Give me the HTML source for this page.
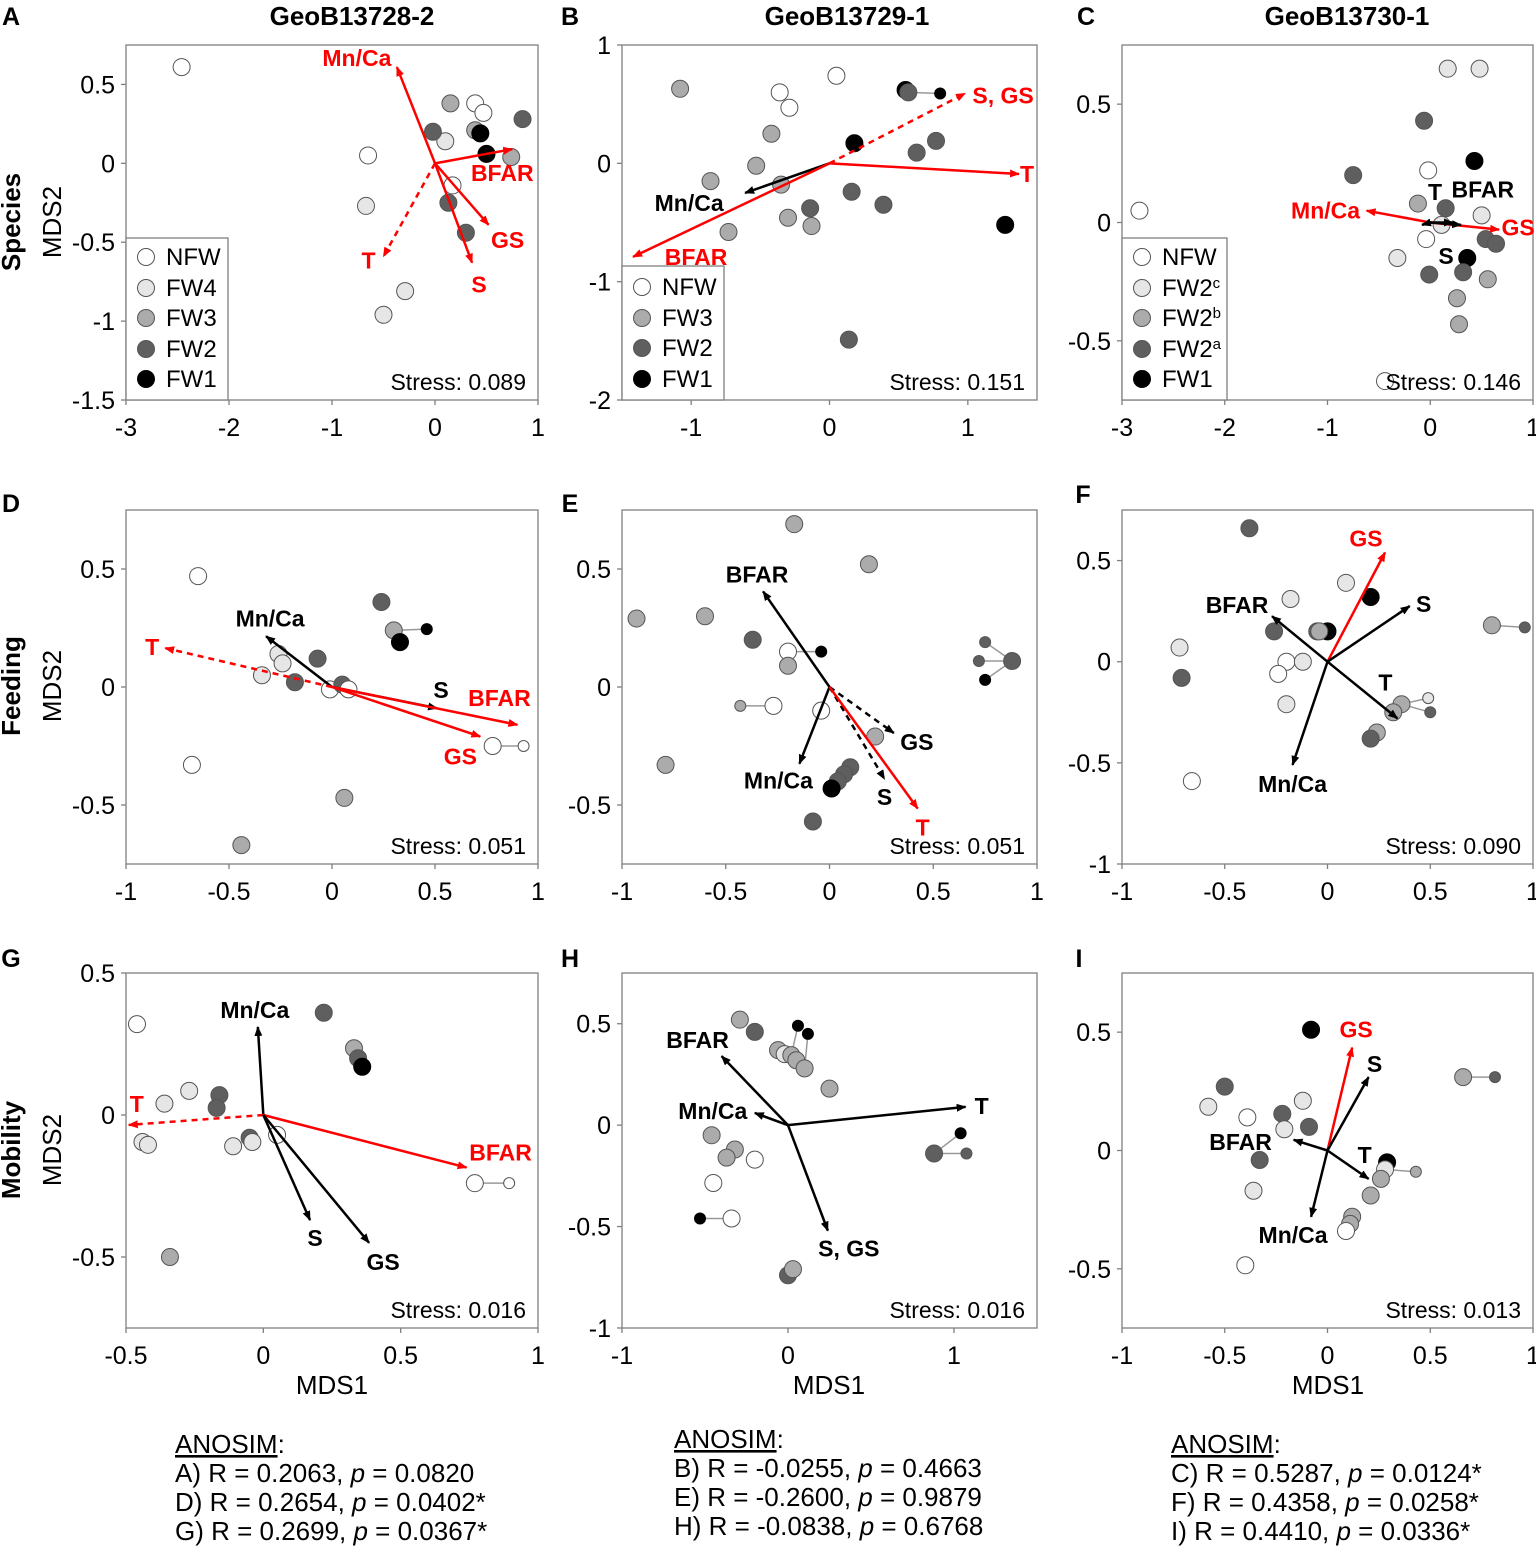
<!DOCTYPE html>
<html><head><meta charset="utf-8">
<style>
html,body{margin:0;padding:0;background:#fff;}
svg{display:block;font-family:"Liberation Sans",Arial,sans-serif;}
</style></head>
<body>
<svg id="fig" width="1536" height="1546" viewBox="0 0 1536 1546" xmlns="http://www.w3.org/2000/svg">
<defs>
<marker id="ahR" markerWidth="10" markerHeight="8" refX="9" refY="4" orient="auto" markerUnits="userSpaceOnUse"><path d="M0,0 L10,4 L0,8 z" fill="#ff0000"/></marker>
<marker id="ahK" markerWidth="10" markerHeight="8" refX="9" refY="4" orient="auto" markerUnits="userSpaceOnUse"><path d="M0,0 L10,4 L0,8 z" fill="#000"/></marker>
</defs>
</svg>
<script>
// ---------- data ----------
const fills = ['#ffffff','#e6e6e6','#ababab','#5f5f5f','#000000'];

// Panel A
const ptsX_A=[-2.46,-0.65,-0.67,-0.29,-0.50,0.15,0.39,0.47,0.10,-0.02,0.39,0.44,0.85,0.50,0.74,0.17,0.13,0.30];
const ptsY_A=[0.61,0.05,-0.27,-0.81,-0.96,0.38,0.38,0.32,0.14,0.20,0.21,0.19,0.28,0.06,0.04,-0.14,-0.25,-0.44];
const ptsC_A=[0,0,1,1,1,2,0,0,1,3,2,4,3,4,2,0,3,3];
const ptsS_A=[0,0,0,0,0,0,0,0,0,0,0,0,0,0,0,0,0,0];
const links_A=[];
const arrLab_A=['Mn/Ca','BFAR','GS','S','T'];
const arrX_A=[-0.37,0.75,0.52,0.36,-0.50];
const arrY_A=[0.61,0.09,-0.39,-0.63,-0.59];
const arrRed_A=[1,1,1,1,1];
const arrDash_A=[0,0,0,0,1];

// Panel B
const ptsX_B=[-1.08,0.05,-0.36,-0.29,-0.42,-0.53,-0.86,-0.35,-0.73,-0.30,-0.13,-0.14,0.18,0.16,0.39,0.63,0.77,0.55,0.57,0.80,1.27,0.14];
const ptsY_B=[0.63,0.74,0.60,0.47,0.25,-0.02,-0.15,-0.18,-0.58,-0.46,-0.53,-0.38,0.17,-0.24,-0.35,0.09,0.19,0.62,0.60,0.59,-0.52,-1.49];
const ptsC_B=[2,0,0,0,2,2,2,2,2,2,2,3,4,3,3,3,3,4,3,4,4,3];
const ptsS_B=[0,0,0,0,0,0,0,0,0,0,0,0,0,0,0,0,0,0,0,1,0,0];
const links_B=[[18,19]];
const arrLab_B=['S, GS','T','Mn/Ca','BFAR'];
const arrX_B=[0.98,1.37,-0.61,-1.42];
const arrY_B=[0.59,-0.09,-0.25,-0.79];
const arrRed_B=[1,1,0,1];
const arrDash_B=[1,0,0,0];

// Panel C
const ptsX_C=[-2.83,0.17,0.48,-0.06,0.43,-0.75,-0.02,-0.12,0.15,0.50,0.11,-0.04,-0.32,-0.01,0.36,0.32,0.54,0.64,0.56,0.26,0.28,-0.44];
const ptsY_C=[0.05,0.65,0.65,0.43,0.26,0.20,0.22,0.08,0.06,0.03,-0.01,-0.07,-0.15,-0.22,-0.15,-0.21,-0.07,-0.09,-0.24,-0.32,-0.43,-0.67];
const ptsC_C=[0,1,1,3,4,3,0,2,3,1,1,0,1,3,4,3,3,3,2,2,2,0];
const ptsS_C=[0,0,0,0,0,0,0,0,0,0,0,0,0,0,0,0,0,0,0,0,0,0];
const links_C=[];
const arrLab_C=['Mn/Ca','GS','T','BFAR','S'];
const arrX_C=[-0.62,0.67,0.30,0.22,-0.08];
const arrY_C=[0.05,-0.03,-0.01,0.0,-0.01];
const arrRed_C=[1,1,0,0,0];
const arrDash_C=[0,0,0,0,0];

// Panel D
const ptsX_D=[-0.65,-0.68,-0.44,0.06,0.24,0.30,0.46,0.33,-0.07,-0.26,-0.24,-0.34,-0.18,-0.01,0.05,0.08,0.78,0.93];
const ptsY_D=[0.47,-0.33,-0.67,-0.47,0.36,0.24,0.245,0.19,0.12,0.14,0.10,0.05,0.02,-0.01,0.01,-0.01,-0.25,-0.25];
const ptsC_D=[0,0,2,2,3,2,4,4,3,1,1,1,3,0,3,0,0,0];
const ptsS_D=[0,0,0,0,0,0,1,0,0,0,0,0,0,0,0,0,0,1];
const links_D=[[5,6],[16,17]];
const arrLab_D=['Mn/Ca','T','S','BFAR','GS'];
const arrX_D=[-0.32,-0.81,0.51,0.90,0.72];
const arrY_D=[0.215,0.165,-0.09,-0.16,-0.21];
const arrRed_D=[0,1,0,1,1];
const arrDash_D=[0,1,0,0,0];

// Panel E
const ptsX_E=[-0.17,0.19,-0.93,-0.60,-0.37,-0.20,-0.04,-0.20,-0.27,-0.43,-0.04,0.22,-0.79,0.10,0.07,0.04,0.01,-0.08,0.88,0.75,0.72,0.75];
const ptsY_E=[0.69,0.52,0.29,0.30,0.20,0.15,0.15,0.09,-0.08,-0.08,-0.10,-0.21,-0.33,-0.34,-0.37,-0.40,-0.43,-0.57,0.11,0.19,0.11,0.03];
const ptsC_E=[2,2,2,2,3,0,4,2,0,2,0,2,2,3,3,3,4,3,3,3,3,4];
const ptsS_E=[0,0,0,0,0,0,1,0,0,1,0,0,0,0,0,0,0,0,0,1,1,1];
const links_E=[[5,6],[8,9],[18,19],[18,20],[18,21]];
const arrLab_E=['BFAR','Mn/Ca','GS','S','T'];
const arrX_E=[-0.32,-0.145,0.31,0.265,0.425];
const arrY_E=[0.405,-0.325,-0.195,-0.39,-0.515];
const arrRed_E=[0,0,0,0,1];
const arrDash_E=[0,0,1,1,0];

// Panel F
const ptsX_F=[-0.38,0.09,0.21,-0.18,-0.72,-0.71,-0.26,-0.05,0.0,-0.04,-0.20,-0.12,-0.24,-0.20,-0.66,0.80,0.96,0.36,0.32,0.24,0.21,0.49,0.50];
const ptsY_F=[0.66,0.39,0.32,0.31,0.07,-0.08,0.15,0.15,0.15,0.15,0.0,0.0,-0.06,-0.21,-0.59,0.18,0.17,-0.21,-0.25,-0.35,-0.38,-0.18,-0.25];
const ptsC_F=[3,1,4,1,1,3,3,3,4,2,0,1,0,1,0,2,3,2,2,2,3,1,3];
const ptsS_F=[0,0,0,0,0,0,0,0,0,0,0,0,0,0,0,0,1,0,0,0,0,1,1];
const links_F=[[15,16],[17,21],[17,22]];
const arrLab_F=['GS','S','BFAR','T','Mn/Ca'];
const arrX_F=[0.28,0.40,-0.27,0.34,-0.17];
const arrY_F=[0.54,0.275,0.225,-0.28,-0.51];
const arrRed_F=[1,0,0,0,0];
const arrDash_F=[0,0,0,0,0];

// Panel G
const ptsX_G=[-0.46,0.22,0.33,0.345,0.36,-0.27,-0.36,-0.16,-0.17,-0.44,-0.42,-0.11,-0.05,-0.04,0.05,-0.34,0.77,0.895];
const ptsY_G=[0.32,0.36,0.235,0.20,0.17,0.085,0.04,0.07,0.025,-0.095,-0.105,-0.11,-0.08,-0.095,-0.07,-0.50,-0.24,-0.24];
const ptsC_G=[0,3,2,3,4,1,1,3,3,1,1,1,3,1,0,2,0,0];
const ptsS_G=[0,0,0,0,0,0,0,0,0,0,0,0,0,0,0,0,0,1];
const links_G=[[16,17]];
const arrLab_G=['Mn/Ca','T','BFAR','S','GS'];
const arrX_G=[-0.02,-0.49,0.74,0.17,0.385];
const arrY_G=[0.31,-0.035,-0.185,-0.37,-0.45];
const arrRed_G=[0,1,1,0,0];
const arrDash_G=[0,1,0,0,0];

// Panel H
const ptsX_H=[-0.29,-0.20,-0.06,-0.02,0.02,0.05,0.10,0.25,0.06,0.12,-0.46,-0.32,-0.37,-0.20,-0.45,-0.34,-0.53,0.0,0.03,0.88,1.04,1.075];
const ptsY_H=[0.52,0.46,0.37,0.35,0.345,0.32,0.28,0.18,0.49,0.45,-0.05,-0.12,-0.16,-0.17,-0.285,-0.46,-0.46,-0.74,-0.71,-0.14,-0.04,-0.14];
const ptsC_H=[2,3,2,1,2,2,2,2,4,4,2,2,2,0,0,0,4,3,2,3,4,3];
const ptsS_H=[0,0,0,0,0,0,0,0,1,1,0,0,0,0,0,0,1,0,0,0,1,1];
const links_H=[[4,8],[6,9],[15,16],[19,20],[19,21]];
const arrLab_H=['BFAR','Mn/Ca','T','S, GS'];
const arrX_H=[-0.40,-0.20,1.07,0.24];
const arrY_H=[0.34,0.06,0.09,-0.52];
const arrRed_H=[0,0,0,0];
const arrDash_H=[0,0,0,0];

// Panel I
const ptsX_I=[-0.08,-0.50,-0.58,-0.39,-0.12,-0.22,-0.21,-0.09,-0.33,-0.36,-0.40,0.66,0.815,0.29,0.28,0.26,0.21,0.12,0.11,0.09,0.43];
const ptsY_I=[0.51,0.27,0.185,0.14,0.21,0.155,0.09,0.10,-0.04,-0.17,-0.485,0.31,0.31,-0.05,-0.08,-0.12,-0.19,-0.28,-0.31,-0.34,-0.09];
const ptsC_I=[4,3,1,0,1,3,1,3,3,1,0,2,3,4,1,2,2,2,2,0,2];
const ptsS_I=[0,0,0,0,0,0,0,0,0,0,0,0,1,0,0,0,0,0,0,0,1];
const links_I=[[11,12],[14,20]];
const arrLab_I=['GS','S','BFAR','T','Mn/Ca'];
const arrX_I=[0.12,0.20,-0.165,0.20,-0.08];
const arrY_I=[0.435,0.31,0.045,-0.12,-0.28];
const arrRed_I=[1,0,0,0,0];
const arrDash_I=[0,0,0,0,0];

// tick labels
const xTicks_A=[-3,-2,-1,0,1], yTicks_A=[0.5,0,-0.5,-1,-1.5];
const xTicks_B=[-1,0,1], yTicks_B=[1,0,-1,-2];
const xTicks_C=[-3,-2,-1,0,1], yTicks_C=[0.5,0,-0.5];
const xTicks_D=[-1,-0.5,0,0.5,1], yTicks_D=[0.5,0,-0.5];
const xTicks_E=[-1,-0.5,0,0.5,1], yTicks_E=[0.5,0,-0.5];
const xTicks_F=[-1,-0.5,0,0.5,1], yTicks_F=[0.5,0,-0.5,-1];
const xTicks_G=[-0.5,0,0.5,1], yTicks_G=[0.5,0,-0.5];
const xTicks_H=[-1,0,1], yTicks_H=[0.5,0,-0.5,-1];
const xTicks_I=[-1,-0.5,0,0.5,1], yTicks_I=[0.5,0,-0.5];
const stress=['0.089','0.151','0.146','0.051','0.051','0.090','0.016','0.016','0.013'];

// ---------- layout ----------
const NS='http://www.w3.org/2000/svg';
const svg=document.getElementById('fig');
function mk(tag,attrs,parent,text){const e=document.createElementNS(NS,tag);for(const k in attrs)e.setAttribute(k,attrs[k]);if(text!==undefined)e.textContent=text;(parent||svg).appendChild(e);return e;}

const colL=[126,622,1122], colR=[538,1037,1533];
const rowT=[45,510,973], rowB=[400,864,1328];
const panels=[
 {id:'A',c:0,r:0,xr:[-3,1],yr:[-1.5,0.75],x:ptsX_A,y:ptsY_A,col:ptsC_A,s:ptsS_A,l:links_A,al:arrLab_A,ax:arrX_A,ay:arrY_A,ar:arrRed_A,ad:arrDash_A,xt:xTicks_A,yt:yTicks_A,
  off:[[-40,-9],[-10,24],[19,15],[7,22],[-15,4]]},
 {id:'B',c:1,r:0,xr:[-1.5,1.5],yr:[-2,1],x:ptsX_B,y:ptsY_B,col:ptsC_B,s:ptsS_B,l:links_B,al:arrLab_B,ax:arrX_B,ay:arrY_B,ar:arrRed_B,ad:arrDash_B,xt:xTicks_B,yt:yTicks_B,
  off:[[38,2],[8,0],[-56,10],[63,0]]},
 {id:'C',c:2,r:0,xr:[-3,1],yr:[-0.75,0.75],x:ptsX_C,y:ptsY_C,col:ptsC_C,s:ptsS_C,l:links_C,al:arrLab_C,ax:arrX_C,ay:arrY_C,ar:arrRed_C,ad:arrDash_C,xt:xTicks_C,yt:yTicks_C,
  off:[[-41,0],[19,-2],[-26,-33],[30,-33],[24,31]]},
 {id:'D',c:0,r:1,xr:[-1,1],yr:[-0.75,0.75],x:ptsX_D,y:ptsY_D,col:ptsC_D,s:ptsS_D,l:links_D,al:arrLab_D,ax:arrX_D,ay:arrY_D,ar:arrRed_D,ad:arrDash_D,xt:xTicks_D,yt:yTicks_D,
  off:[[4,-18],[-13,-1],[4,-18],[-18,-27],[-20,20]]},
 {id:'E',c:1,r:1,xr:[-1,1],yr:[-0.75,0.75],x:ptsX_E,y:ptsY_E,col:ptsC_E,s:ptsS_E,l:links_E,al:arrLab_E,ax:arrX_E,ay:arrY_E,ar:arrRed_E,ad:arrDash_E,xt:xTicks_E,yt:yTicks_E,
  off:[[-6,-17],[-21,17],[23,9],[0,18],[5,19]]},
 {id:'F',c:2,r:1,xr:[-1,1],yr:[-1,0.75],x:ptsX_F,y:ptsY_F,col:ptsC_F,s:ptsS_F,l:links_F,al:arrLab_F,ax:arrX_F,ay:arrY_F,ar:arrRed_F,ad:arrDash_F,xt:xTicks_F,yt:yTicks_F,
  off:[[-19,-14],[14,-2],[-35,-11],[-12,-36],[0,19]]},
 {id:'G',c:0,r:2,xr:[-0.5,1],yr:[-0.75,0.5],x:ptsX_G,y:ptsY_G,col:ptsC_G,s:ptsS_G,l:links_G,al:arrLab_G,ax:arrX_G,ay:arrY_G,ar:arrRed_G,ad:arrDash_G,xt:xTicks_G,yt:yTicks_G,
  off:[[-3,-17],[8,-21],[34,-15],[5,18],[14,19]]},
 {id:'H',c:1,r:2,xr:[-1,1.5],yr:[-1,0.75],x:ptsX_H,y:ptsY_H,col:ptsC_H,s:ptsS_H,l:links_H,al:arrLab_H,ax:arrX_H,ay:arrY_H,ar:arrRed_H,ad:arrDash_H,xt:xTicks_H,yt:yTicks_H,
  off:[[-24,-16],[-42,-2],[16,-1],[21,18]]},
 {id:'I',c:2,r:2,xr:[-1,1],yr:[-0.75,0.75],x:ptsX_I,y:ptsY_I,col:ptsC_I,s:ptsS_I,l:links_I,al:arrLab_I,ax:arrX_I,ay:arrY_I,ar:arrRed_I,ad:arrDash_I,xt:xTicks_I,yt:yTicks_I,
  off:[[4,-18],[6,-13],[-53,2],[-4,-24],[-18,18]]}
];

panels.forEach((p,pi)=>{
  const L=colL[p.c],R=colR[p.c],T=rowT[p.r],B=rowB[p.r];
  const sx=v=>L+(v-p.xr[0])/(p.xr[1]-p.xr[0])*(R-L);
  const sy=v=>B-(v-p.yr[0])/(p.yr[1]-p.yr[0])*(B-T);
  const g=mk('g',{});
  
  
  const frame=mk('rect',{x:L,y:T,width:R-L,height:B-T,fill:'none',stroke:'#808080','stroke-width':1.3},g);
  
  
  p.xt.forEach(t=>{const X=sx(t);
    mk('line',{x1:X,y1:B,x2:X,y2:B+5,stroke:'#808080','stroke-width':1.3},g);
    const tl=mk('text',{x:X,y:B+36,'font-size':25,'text-anchor':'middle'},g,String(t));
    
    });
  p.yt.forEach(t=>{const Y=sy(t);
    mk('line',{x1:L-5,y1:Y,x2:L,y2:Y,stroke:'#808080','stroke-width':1.3},g);
    const tl=mk('text',{x:L-11,y:Y+9,'font-size':25,'text-anchor':'end'},g,String(t));
    
    });
  p.l.forEach(k=>{const ln=mk('line',{x1:sx(p.x[k[0]]),y1:sy(p.y[k[0]]),x2:sx(p.x[k[1]]),y2:sy(p.y[k[1]]),stroke:'#999','stroke-width':1.5},g);
    
    });
  p.x.forEach((v,i)=>{
    const pt=mk('circle',{cx:sx(v),cy:sy(p.y[i]),r:p.s[i]?5.5:8.5,fill:fills[p.col[i]],stroke:p.col[i]==4?'#000':'#555','stroke-width':1},g);
    
    
  });
  const ox=sx(0),oy=sy(0);
  p.al.forEach((lab,i)=>{
    const col=p.ar[i]?'#ff0000':'#000';
    const ex=sx(p.ax[i]),ey=sy(p.ay[i]);
    const a=mk('line',{x1:ox,y1:oy,x2:ex,y2:ey,stroke:col,'stroke-width':2.5,'marker-end':p.ar[i]?'url(#ahR)':'url(#ahK)'},g);
    if(p.ad[i])a.setAttribute('stroke-dasharray','6,5');
    
    
    const t=mk('text',{x:ex+p.off[i][0],y:ey+p.off[i][1]+8,'font-size':23,'font-weight':'bold','text-anchor':'middle',fill:col},g,lab);
    
    
  });
  const st=mk('text',{x:R-12,y:B-10,'font-size':23,'text-anchor':'end'},g,'Stress: '+stress[pi]);
  
  
});

function legend(x,y,w,h,labels,cols,rows,name){
  const g=mk('g',{});
  
  
  mk('rect',{x:x,y:y,width:w,height:h,fill:'#fff',stroke:'#808080','stroke-width':1.3},g);
  labels.forEach((lb,i)=>{
    mk('circle',{cx:x+20,cy:rows[i],r:8.5,fill:fills[cols[i]],stroke:cols[i]==4?'#000':'#555'},g);
    const t=mk('text',{x:x+40,y:rows[i]+8,'font-size':24},g);
    
    
    if(lb.length===2){t.textContent=lb[0];mk('tspan',{'font-size':15,dy:-8},t,lb[1]);}else t.textContent=lb;
  });
}
legend(126,238,102,162,['NFW','FW4','FW3','FW2','FW1'],[0,1,2,3,4],[257,288,318,349,379],'legend-a');
legend(622,266,102,134,['NFW','FW3','FW2','FW1'],[0,2,3,4],[287,318,348,379],'legend-b');
legend(1122,238,105,162,['NFW',['FW2','c'],['FW2','b'],['FW2','a'],'FW1'],[0,1,2,3,4],[257,288,318,349,379],'legend-c');

function txt(x,y,s,attrs,name){const t=mk('text',Object.assign({x:x,y:y},attrs),svg,s);return t;}
const B={'font-size':26,'font-weight':'bold','text-anchor':'middle'};
txt(352,25,'GeoB13728-2',B,'title-geob13728-2');
txt(847,25,'GeoB13729-1',B,'title-geob13729-1');
txt(1347,25,'GeoB13730-1',B,'title-geob13730-1');
const LT={'font-size':25,'font-weight':'bold','text-anchor':'middle'};
[['A',11,25],['B',570,25],['C',1086,25],['D',11,512],['E',570,512],['F',1083,503],['G',11,967],['H',570,967],['I',1079,967]].forEach(a=>txt(a[1],a[2],a[0],LT,'panel-letter-'+a[0].toLowerCase()));
[['Species',222],['Feeding',686],['Mobility',1150]].forEach(r=>{
  txt(0,0,r[0],{'font-size':26,'font-weight':'bold','text-anchor':'middle',transform:`translate(20,${r[1]}) rotate(-90)`},'row-label-'+r[0].toLowerCase());
  txt(0,0,'MDS2',{'font-size':26,'text-anchor':'middle',transform:`translate(61,${r[1]}) rotate(-90)`},'y-axis-title');
});
[332,829,1328].forEach(x=>txt(x,1394,'MDS1',{'font-size':26,'text-anchor':'middle'},'x-axis-title'));

function anosim(x,y,lines,name){
  const g=mk('g',{});
  const h=mk('text',{x:x,y:y,'font-size':26},g);
  mk('tspan',{'text-decoration':'underline'},h,'ANOSIM');
  mk('tspan',{},h,':');
  lines.forEach((l,i)=>{const t=mk('text',{x:x,y:y+29*(i+1),'font-size':26},g);
    t.appendChild(document.createTextNode(l[0]+') R = '+l[1]+', '));
    mk('tspan',{'font-style':'italic'},t,'p');
    t.appendChild(document.createTextNode(' = '+l[2]));});
}
anosim(175,1453,[['A','0.2063','0.0820'],['D','0.2654','0.0402*'],['G','0.2699','0.0367*']],'anosim-column-1');
anosim(674,1448,[['B','-0.0255','0.4663'],['E','-0.2600','0.9879'],['H','-0.0838','0.6768']],'anosim-column-2');
anosim(1171,1453,[['C','0.5287','0.0124*'],['F','0.4358','0.0258*'],['I','0.4410','0.0336*']],'anosim-column-3');
</script>
</body></html>
